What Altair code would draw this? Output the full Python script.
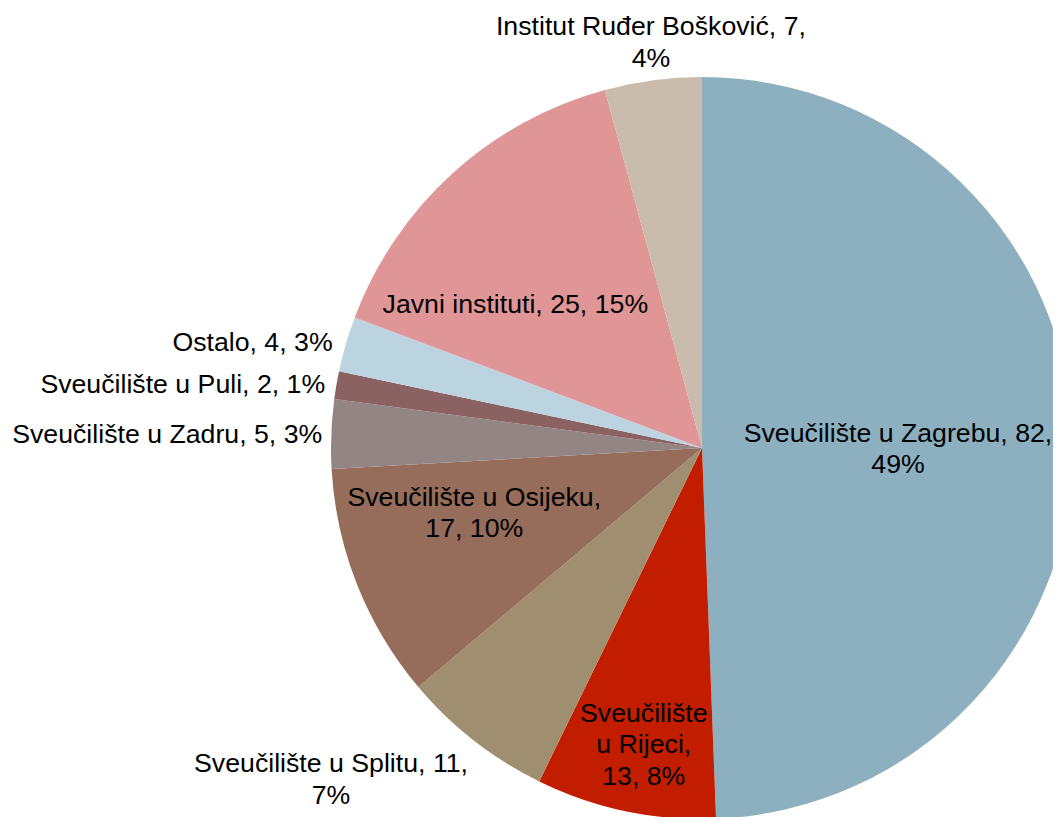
import altair as alt
import pandas as pd

# ---- data ----
names = [
    "Sveučilište u Zagrebu",
    "Sveučilište u Rijeci",
    "Sveučilište u Splitu",
    "Sveučilište u Osijeku",
    "Sveučilište u Zadru",
    "Sveučilište u Puli",
    "Ostalo",
    "Javni instituti",
    "Institut Ruđer Bošković",
]
values = [82, 13, 11, 17, 5, 2, 4, 25, 7]
labels = [
    "Sveučilište u Zagrebu, 82,\n49%",
    "Sveučilište\nu Rijeci,\n13, 8%",
    "Sveučilište u Splitu, 11,\n7%",
    "Sveučilište u Osijeku,\n17, 10%",
    "Sveučilište u Zadru, 5, 3%",
    "Sveučilište u Puli, 2, 1%",
    "Ostalo, 4, 3%",
    "Javni instituti, 25, 15%",
    "Institut Ruđer Bošković, 7,\n4%",
]
colors = ["#8DB0C0", "#C31D00", "#A08E70", "#966C5A", "#938584",
          "#8A6262", "#BBD4E0", "#E09696", "#C9BCAC"]

# ---- label layout (distance from centre, angular nudge in degrees, alignment) ----
label_radius = [196, 303, 498, 237, 380, 382, 384, 235, 408]
label_nudge = [1.5, -0.85, 10.2, 5.6, -0.2, -0.3, -0.4, -10.3, 0.4]
label_align = ["center", "center", "center", "center", "right", "right", "right", "center", "center"]

df = pd.DataFrame({
    "idx": list(range(len(names))),
    "name": names,
    "value": values,
    "label": labels,
    "lr": label_radius,
    "nudge": label_nudge,
    "al": label_align,
})

CX, CY, R = 694, 440, 371
FONT = "Liberation Sans"
FS = 26.7
LH = 31.5

base = alt.Chart(df)

pie = base.mark_arc(radius=R).encode(
    theta=alt.Theta("value:Q", stack=True),
    order=alt.Order("idx:Q"),
    color=alt.Color("name:N", scale=alt.Scale(domain=names, range=colors), legend=None),
    x=alt.value(CX),
    y=alt.value(CY),
)

lab = base.transform_joinaggregate(
    total="sum(value)"
).transform_window(
    cum="sum(value)", sort=[{"field": "idx"}], frame=[None, 0]
).transform_calculate(
    mid="2*PI*(datum.cum - datum.value/2)/datum.total + datum.nudge*PI/180",
    nl="length(split(datum.label, '\\n'))",
).transform_calculate(
    lx=f"{CX} + datum.lr*sin(datum.mid)",
    ly=f"{CY} - datum.lr*cos(datum.mid) - (datum.nl - 1)*{LH}/2",
)

def text_layer(al):
    return lab.transform_filter(f"datum.al == '{al}'").mark_text(
        align=al, baseline="middle", font=FONT, fontSize=FS,
        lineBreak="\n", lineHeight=LH, color="#000000",
    ).encode(
        text="label:N",
        x=alt.X("lx:Q", scale=None, axis=None),
        y=alt.Y("ly:Q", scale=None, axis=None),
    )

chart = alt.layer(pie, text_layer("center"), text_layer("right")).properties(
    width=1045, height=809, padding=0, autosize=alt.AutoSizeParams(type="none"),
    background="white",
).configure_view(stroke=None)

chart.save("out.html", embed_options={"renderer": "svg", "actions": False})
